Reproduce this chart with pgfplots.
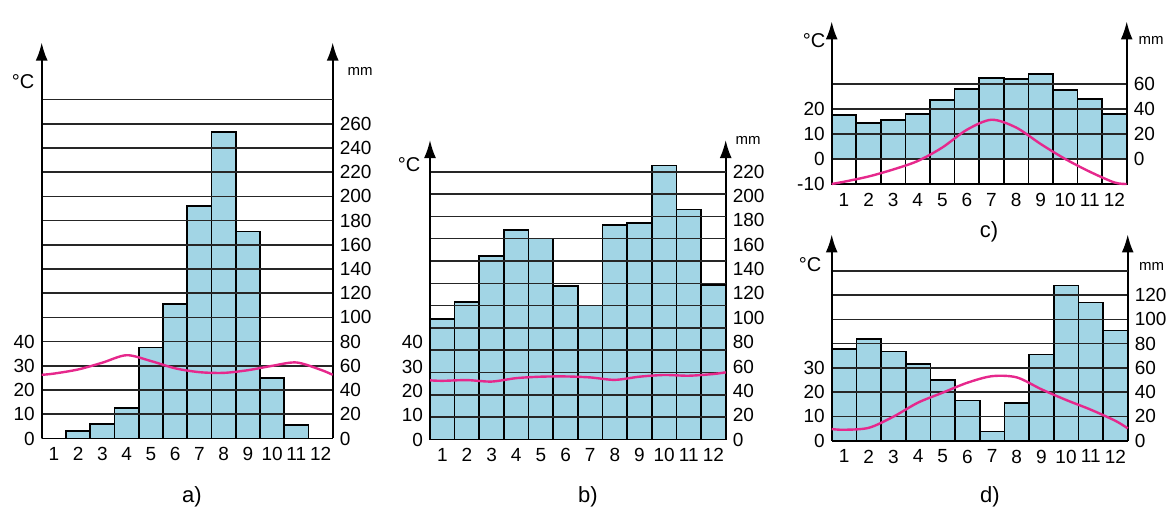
\documentclass[border=0pt]{standalone}
\usepackage{fontspec}
\setmainfont{Liberation Sans}
\usepackage{pgfplots}
\pgfplotsset{compat=1.18}
\usetikzlibrary{arrows.meta}
\definecolor{barblue}{RGB}{162,213,229}
\definecolor{tline}{RGB}{230,40,140}
\pgfplotsset{
  common/.style={scale only axis, xmin=0, xmax=12, clip=false,
    major tick length=0pt,
    /pgf/number format/assume math mode=true,
    tick label style={font=\fontsize{9.5}{10}\selectfont},
    xticklabel style={yshift=-1pt},
    every non boxed x axis/.append style={x axis line style={-, line width=0.9pt, black}},
    every non boxed y axis/.append style={y axis line style={-{Latex[length=9pt,width=6pt]}, line width=0.9pt, black}},
  },
  mmaxis/.style={common, axis on top,
    axis x line=bottom, axis y line=right,
    xtick={0.5,1.5,2.5,3.5,4.5,5.5,6.5,7.5,8.5,9.5,10.5,11.5},
    xticklabels={1,2,3,4,5,6,7,8,9,10,11,12},
    grid style={line width=0.8pt, black!85},
  },
  taxis/.style={common, axis x line=none, axis y line=left, xtick=\empty},
  bars/.style={ybar, bar width=1, bar shift=0pt, fill=barblue, draw=black, line width=0.8pt},
  temp/.style={smooth, tline, line width=1.2pt, no marks},
}
\begin{document}
\begin{tikzpicture}
\useasboundingbox (0,0) rectangle (586pt,256.5pt);
% ---------------- a)
\begin{axis}[mmaxis, at={(20.85pt,37.25pt)}, anchor=south west,
  width=145.5pt, height=197.95pt, ymin=0, ymax=327,
  ytick={0,20,...,260}, ymajorgrids,
  extra y ticks={280}, extra y tick labels={}, extra y tick style={grid=major}]
\addplot[bars] coordinates {(0.5,0) (1.5,6) (2.5,12) (3.5,25) (4.5,75) (5.5,111) (6.5,192) (7.5,253) (8.5,171) (9.5,50) (10.5,11) (11.5,0)};
\end{axis}
\begin{axis}[taxis, at={(20.85pt,37.25pt)}, anchor=south west,
  width=145.5pt, height=197.95pt, ymin=0, ymax=163.5,
  ytick={0,10,20,30,40}]
\addplot[temp] coordinates {(0,26.3) (0.5,26.8) (1.5,28.5) (2.5,31.3) (3.5,34.4) (4.5,32.0) (5.5,29.0) (6.5,27.4) (7.5,27.1) (8.5,28.2) (9.5,30.0) (10.5,31.4) (11.5,28.4) (12,26.3)};
\end{axis}
% ---------------- b)
\begin{axis}[mmaxis, at={(215pt,36.75pt)}, anchor=south west,
  width=147.85pt, height=149.7pt, ymin=0, ymax=246,
  ytick={0,20,...,220},
  extra y ticks={18.333,36.667,55,73.333,91.667,110,128.333,146.667,165,183.333,201.667,220},
  extra y tick labels={}, extra y tick style={grid=major}]
\addplot[bars] coordinates {(0.5,99) (1.5,113) (2.5,151) (3.5,172) (4.5,165) (5.5,126) (6.5,110) (7.5,176) (8.5,178) (9.5,225) (10.5,189) (11.5,127)};
\end{axis}
\begin{axis}[taxis, at={(215pt,36.75pt)}, anchor=south west,
  width=147.85pt, height=149.7pt, ymin=0, ymax=123,
  ytick={0,10,20,30,40}]
\addplot[temp] coordinates {(0,24.3) (0.5,24.1) (1.5,24.4) (2.5,23.8) (3.5,25.2) (4.5,25.8) (5.5,25.9) (6.5,25.5) (7.5,24.5) (8.5,25.8) (9.5,26.5) (10.5,26.2) (11.5,26.9) (12,27.6)};
\end{axis}
% ---------------- c)
\begin{axis}[mmaxis, at={(415.85pt,164.5pt)}, anchor=south west,
  width=147.5pt, height=81.25pt, ymin=-20, ymax=110,
  ytick={0,20,40,60}, ymajorgrids]
\addplot[ybar, bar width=1, bar shift=0pt, fill=white, draw=black, line width=0.8pt] coordinates {(0.5,-20) (1.5,-20) (2.5,-20) (3.5,-20) (4.5,-20) (5.5,-20) (6.5,-20) (7.5,-20) (8.5,-20) (9.5,-20) (10.5,-20) (11.5,-20)};
\addplot[bars] coordinates {(0.5,35) (1.5,29) (2.5,31) (3.5,36) (4.5,47) (5.5,56) (6.5,65) (7.5,64) (8.5,68) (9.5,55) (10.5,48) (11.5,36)};
\end{axis}
\begin{axis}[taxis, at={(415.85pt,164.5pt)}, anchor=south west,
  width=147.5pt, height=81.25pt, ymin=-10, ymax=55,
  ytick={-10,0,10,20}]
\addplot[temp] coordinates {(0,-10) (0.5,-9.1) (1.5,-7.0) (2.5,-4.2) (3.5,-0.8) (4.5,4.6) (5.5,11.7) (6.5,15.7) (7.5,12.6) (8.5,6.0) (9.5,0) (10.5,-5.1) (11.5,-9.4) (12,-10)};
\end{axis}
% ---------------- d)
\begin{axis}[mmaxis, at={(415.85pt,36.15pt)}, anchor=south west,
  width=148pt, height=103.1pt, ymin=0, ymax=170,
  ytick={0,20,...,120}, ymajorgrids,
  extra y ticks={140}, extra y tick labels={}, extra y tick style={grid=major}]
\addplot[bars] coordinates {(0.5,75.5) (1.5,84) (2.5,73.5) (3.5,63) (4.5,50) (5.5,33) (6.5,7.5) (7.5,31) (8.5,71) (9.5,128) (10.5,114) (11.5,91)};
\end{axis}
\begin{axis}[taxis, at={(415.85pt,36.15pt)}, anchor=south west,
  width=148pt, height=103.1pt, ymin=0, ymax=85,
  ytick={0,10,20,30}]
\addplot[temp] coordinates {(0,4.8) (0.5,4.5) (1.5,5.3) (2.5,9.9) (3.5,15.7) (4.5,19.8) (5.5,23.9) (6.5,26.6) (7.5,26.1) (8.5,21.2) (9.5,16.8) (10.5,12.8) (11.5,8.2) (12,5.1)};
\end{axis}
% ---------------- unit labels and captions
\begin{scope}[every node/.style={inner sep=0pt}]
\node[font=\fontsize{10}{11}\selectfont] at (11.5pt,215.5pt) {°C};
\node[font=\fontsize{7.5}{8}\selectfont] at (180pt,221pt) {mm};
\node[font=\fontsize{11}{12}\selectfont] at (96pt,8pt) {a)};
\node[font=\fontsize{10}{11}\selectfont] at (204.5pt,174pt) {°C};
\node[font=\fontsize{7.5}{8}\selectfont] at (374pt,186.5pt) {mm};
\node[font=\fontsize{11}{12}\selectfont] at (294pt,8pt) {b)};
\node[font=\fontsize{10}{11}\selectfont] at (407pt,236pt) {°C};
\node[font=\fontsize{7.5}{8}\selectfont] at (575.5pt,236.5pt) {mm};
\node[font=\fontsize{11}{12}\selectfont] at (494.5pt,140.5pt) {c)};
\node[font=\fontsize{10}{11}\selectfont] at (405pt,124pt) {°C};
\node[font=\fontsize{7.5}{8}\selectfont] at (575.85pt,123.15pt) {mm};
\node[font=\fontsize{11}{12}\selectfont] at (495pt,8pt) {d)};
\end{scope}
\end{tikzpicture}
\end{document}
